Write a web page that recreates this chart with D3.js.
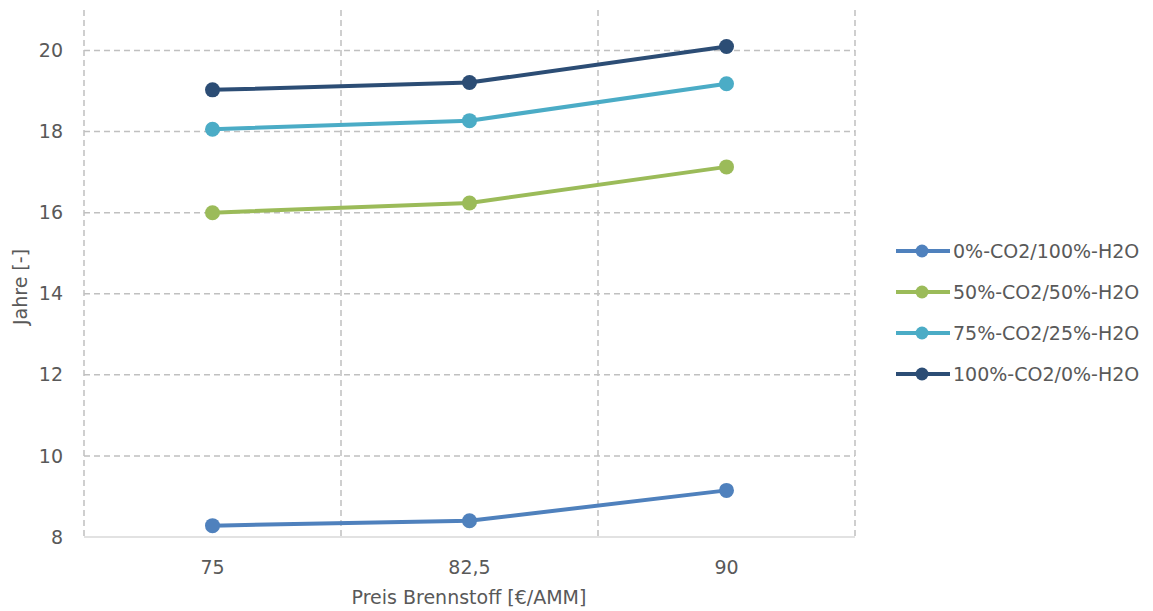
<!DOCTYPE html>
<html><head><meta charset="utf-8">
<script src="https://cdn.jsdelivr.net/npm/d3@7"></script>
<style>body{margin:0;background:#fff;} text{font-family:"DejaVu Sans",sans-serif;fill:#595959;}</style>
</head><body><svg id="c" width="1153" height="611"></svg>
<script>
const categories = ["75","82,5","90"];
const seriesNames = ["0%-CO2/100%-H2O","50%-CO2/50%-H2O","75%-CO2/25%-H2O","100%-CO2/0%-H2O"];
const s0 = [8.28, 8.40, 9.15];
const s50 = [16.0, 16.24, 17.13];
const s75 = [18.06, 18.27, 19.18];
const s100 = [19.03, 19.21, 20.1];
const yTicks = [8,10,12,14,16,18,20];
const colors = ["#4F81BD","#9BBB59","#4BACC6","#2C4D75"];
const allSeries = [s0,s50,s75,s100];

const svg = d3.select("#c");
const L=84, R=855, T=10, B=537;
const FS = 19;
const x = d3.scaleBand().domain(categories).range([L,R]);
const y = d3.scaleLinear().domain([8,21]).range([B,T]);

svg.append("g").selectAll("line").data(yTicks.filter(d=>d>8)).join("line")
  .attr("x1",L).attr("x2",R).attr("y1",d=>y(d)).attr("y2",d=>y(d))
  .attr("stroke","#c0c0c0").attr("stroke-width",1.5).attr("stroke-dasharray","6,4");
const edges = categories.map(c=>x(c)).concat([x(categories[categories.length-1])+x.bandwidth()]);
svg.append("g").selectAll("line").data(edges).join("line")
  .attr("x1",d=>d).attr("x2",d=>d).attr("y1",T).attr("y2",B)
  .attr("stroke","#c0c0c0").attr("stroke-width",1.5).attr("stroke-dasharray","6,4");
svg.append("line").attr("x1",L).attr("x2",R).attr("y1",B).attr("y2",B)
  .attr("stroke","#d9d9d9").attr("stroke-width",1.5);

svg.append("g").selectAll("text").data(yTicks).join("text")
  .attr("x",63).attr("y",d=>y(d)).attr("dy","0.35em").attr("text-anchor","end")
  .attr("font-size",FS).text(d=>d);
svg.append("g").selectAll("text").data(categories).join("text")
  .attr("x",d=>x(d)+x.bandwidth()/2).attr("y",574).attr("text-anchor","middle")
  .attr("font-size",FS).text(d=>d);

svg.append("text").attr("x",469).attr("y",604).attr("text-anchor","middle")
  .attr("font-size",FS).text("Preis Brennstoff [€/AMM]");
svg.append("text").attr("transform","translate(27,287) rotate(-90)").attr("text-anchor","middle")
  .attr("font-size",FS).text("Jahre [-]");

const line = d3.line().x((d,i)=>x(categories[i])+x.bandwidth()/2).y(d=>y(d));
allSeries.forEach((s,k)=>{
  const g = svg.append("g");
  g.append("path").datum(s).attr("d",line).attr("fill","none")
    .attr("stroke",colors[k]).attr("stroke-width",4).attr("stroke-linejoin","round");
  g.selectAll("circle").data(s).join("circle")
    .attr("cx",(d,i)=>x(categories[i])+x.bandwidth()/2).attr("cy",d=>y(d)).attr("r",7.5)
    .attr("fill",colors[k]);
});

const lg = svg.append("g");
seriesNames.forEach((n,k)=>{
  const yy = 251 + k*41;
  lg.append("line").attr("x1",896).attr("x2",950).attr("y1",yy).attr("y2",yy)
    .attr("stroke",colors[k]).attr("stroke-width",4);
  lg.append("circle").attr("cx",922).attr("cy",yy).attr("r",6.5).attr("fill",colors[k]);
  lg.append("text").attr("x",953).attr("y",yy).attr("dy","0.35em").attr("font-size",FS).text(n);
});
</script></body></html>
